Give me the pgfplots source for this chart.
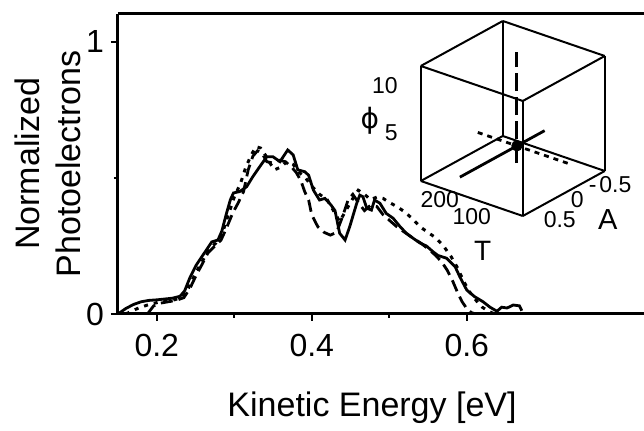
\documentclass[border=0pt]{standalone}
\usepackage{fontspec}
\setmainfont{Liberation Sans}
\newfontfamily\dejavu{DejaVu Sans}
\usepackage{pgfplots}
\pgfplotsset{compat=1.18}

\begin{document}
\begin{tikzpicture}
\begin{axis}[
  name=main,
  scale only axis, width=263pt, height=150pt,
  xmin=0.15, xmax=0.8287, ymin=0, ymax=1.1029,
  axis x line*=box, axis y line*=left,
  axis line style={line width=1.5pt},
  xtick={0.2,0.4,0.6}, minor xtick={0.3,0.5},
  ytick={0,1}, minor ytick={0.5},
  tick pos=left, tick align=outside,
  major tick length=3.5pt, minor tick length=2pt,
  every tick/.style={line width=1.2pt, black},
  /pgf/number format/assume math mode=true,
  tick label style={font=\fontsize{16}{19}\selectfont},
  xticklabel style={yshift=-3pt},
  xlabel={Kinetic Energy [eV]},
  ylabel={Normalized\\Photoelectrons},
  label style={font=\fontsize{17}{20.5}\selectfont},
  xlabel style={at={(axis description cs:0.483,0)}, anchor=center, yshift=-47pt},
  ylabel style={at={(axis description cs:-0.1331,0.5)}, anchor=center, align=center},
]
% solid
\addplot[black, line width=1.4pt] coordinates {
(0.150,0.000) (0.160,0.020) (0.170,0.035) (0.180,0.045) (0.190,0.050) (0.200,0.052)
(0.210,0.055) (0.220,0.058) (0.230,0.065) (0.236,0.085) (0.243,0.135) (0.251,0.180)
(0.258,0.210) (0.264,0.235) (0.271,0.265) (0.279,0.272) (0.284,0.305) (0.290,0.370)
(0.295,0.420) (0.299,0.445) (0.307,0.450) (0.316,0.468) (0.324,0.505) (0.333,0.542)
(0.342,0.578) (0.350,0.578) (0.359,0.560) (0.369,0.603) (0.376,0.585) (0.382,0.530)
(0.391,0.523) (0.396,0.510) (0.402,0.456) (0.410,0.419) (0.417,0.425) (0.425,0.400)
(0.430,0.380) (0.436,0.297) (0.443,0.272) (0.449,0.321) (0.458,0.407) (0.462,0.437)
(0.466,0.431) (0.471,0.389) (0.477,0.382) (0.481,0.419) (0.488,0.407) (0.496,0.370)
(0.505,0.352) (0.514,0.321) (0.522,0.297) (0.531,0.278) (0.539,0.262) (0.548,0.250)
(0.556,0.230) (0.563,0.215) (0.574,0.205) (0.585,0.174) (0.591,0.137) (0.600,0.088)
(0.610,0.064) (0.621,0.045) (0.630,0.025) (0.639,0.010) (0.645,0.025) (0.652,0.022)
(0.660,0.033) (0.668,0.030) (0.671,0.012)
};
% dashed
\addplot[black, line width=1.4pt, dash pattern=on 6pt off 3pt] coordinates {
(0.188,0.000) (0.192,0.015) (0.196,0.030) (0.205,0.040) (0.215,0.045) (0.225,0.050)
(0.235,0.060) (0.243,0.095) (0.251,0.143) (0.258,0.180) (0.266,0.224) (0.275,0.250)
(0.283,0.272) (0.290,0.316) (0.298,0.371) (0.305,0.408) (0.312,0.450) (0.318,0.530)
(0.324,0.580) (0.330,0.600) (0.336,0.590) (0.342,0.560) (0.350,0.555) (0.358,0.565)
(0.366,0.560) (0.374,0.540) (0.380,0.520) (0.386,0.490) (0.391,0.449) (0.396,0.419)
(0.400,0.364) (0.408,0.320) (0.416,0.300) (0.424,0.290) (0.432,0.300) (0.440,0.360)
(0.447,0.420) (0.453,0.440) (0.460,0.410) (0.468,0.380) (0.476,0.400) (0.484,0.395)
(0.492,0.365) (0.500,0.345) (0.510,0.320) (0.520,0.300) (0.530,0.280) (0.540,0.262)
(0.550,0.240) (0.560,0.215) (0.568,0.190) (0.575,0.160) (0.582,0.120) (0.588,0.080)
(0.594,0.045) (0.600,0.020) (0.606,0.005) (0.612,0.000)
};
% dotted
\addplot[black, line width=1.5pt, dash pattern=on 2pt off 3pt] coordinates {
(0.160,0.000) (0.175,0.020) (0.190,0.035) (0.205,0.045) (0.220,0.050) (0.232,0.060)
(0.240,0.090) (0.250,0.150) (0.260,0.200) (0.268,0.240) (0.276,0.260) (0.285,0.300)
(0.293,0.370) (0.300,0.430) (0.308,0.480) (0.315,0.540) (0.322,0.585) (0.328,0.615)
(0.334,0.610) (0.340,0.585) (0.346,0.555) (0.352,0.530) (0.360,0.540) (0.368,0.560)
(0.376,0.550) (0.384,0.520) (0.392,0.500) (0.400,0.470) (0.410,0.440) (0.420,0.420)
(0.428,0.380) (0.436,0.340) (0.444,0.380) (0.452,0.420) (0.460,0.455) (0.468,0.440)
(0.476,0.420) (0.484,0.430) (0.492,0.425) (0.500,0.410) (0.510,0.395) (0.520,0.375)
(0.530,0.350) (0.540,0.320) (0.550,0.300) (0.560,0.280) (0.570,0.250) (0.580,0.210)
(0.588,0.170) (0.596,0.120) (0.604,0.080) (0.612,0.050) (0.620,0.025) (0.628,0.010)
(0.636,0.000)
};
\coordinate (insetorigin) at (axis cs:0.7252,0.4430);
\end{axis}

% inset: 3D box T, A, phi
\begin{axis}[
  at={(insetorigin)}, anchor=origin,
  x={(-0.17pt,0.058333pt)}, y={(-27.333pt,-15pt)}, z={(0pt,4.79167pt)},
  xmin=0, xmax=300, ymin=-0.75, ymax=0.75, zmin=0, zmax=12,
  3d box=complete,
  axis line style={line width=1pt},
  xtick=\empty, ytick=\empty, ztick=\empty,
  clip=false,
]
\addplot3[black, line width=1.4pt] coordinates {(185,0.75,1.8) (185,-0.8,1.8)};
\addplot3[black, line width=1.4pt, dash pattern=on 2.5pt off 2.5pt] coordinates {(300,-0.293,1.8) (30,-0.293,1.8)};
\addplot3[black, line width=1.5pt, dash pattern=on 9pt off 3pt] coordinates {(185,-0.293,0) (185,-0.293,11.6)};
\addplot3[black, only marks, mark=*, mark size=2.6pt] coordinates {(185,-0.293,1.8)};
\node[font=\fontsize{11.5}{13}\selectfont, xshift=-7.5pt, yshift=-3.65pt] at (axis cs:200,0.75,0) {200};
\node[font=\fontsize{11.5}{13}\selectfont, xshift=-8.5pt, yshift=-6.35pt] at (axis cs:100,0.75,0) {100};
\node[font=\fontsize{11.5}{13}\selectfont, xshift=11.65pt, yshift=-5.75pt] at (axis cs:0,0.5,0) {0.5};
\node[font=\fontsize{11.5}{13}\selectfont, xshift=6.75pt, yshift=-3.25pt] at (axis cs:0,0,0) {0};
\node[font=\fontsize{11.5}{13}\selectfont, xshift=9.5pt, yshift=-3.25pt] at (axis cs:0,-0.5,0) {-\kern1.5pt0.5};
\node[font=\fontsize{11.5}{13}\selectfont, anchor=east, xshift=-8pt] at (axis cs:300,0.75,10) {10};
\node[font=\fontsize{11.5}{13}\selectfont, anchor=east, xshift=-8pt] at (axis cs:300,0.75,5) {5};
\node[font=\fontsize{14}{16}\selectfont, xshift=-20pt, yshift=-17.5pt] at (axis cs:0,0.75,0) {T};
\node[font=\fontsize{14.5}{16}\selectfont, xshift=42.5pt, yshift=-2pt] at (axis cs:0,0.75,0) {A};
\node[font=\fontsize{14}{16}\dejavu, xshift=-25.5pt] at (axis cs:300,0.75,6.26) {ϕ};
\end{axis}

\pgfresetboundingbox
\path ([xshift=-59pt,yshift=-58.5pt]main.south west) rectangle ([yshift=7pt]main.north east);
\end{tikzpicture}
\end{document}
